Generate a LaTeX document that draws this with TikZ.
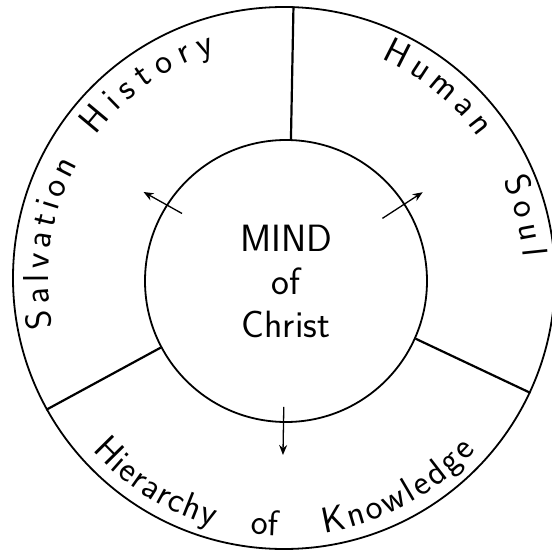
\documentclass[tikz,border=0pt]{standalone}
\usepackage{tikz}
\usetikzlibrary{arrows.meta, calc, decorations.text}

\newcommand{\ringfont}{\sffamily\fontsize{36}{43}\selectfont}

\begin{document}
\begin{tikzpicture}[
      x=1pt, y=1pt,
      ring/.style={circle, draw, line width=1.8pt, inner sep=0pt},
      divider/.style={line width=2.2pt},
      arrow/.style={-{Stealth[length=10pt, width=8pt]}, line width=1.3pt},
      rim text/.style={decorate, decoration={text along path,
          text align=center, text={|\ringfont|#1}}},
      bend text/.style={decorate, decoration={text along path,
          text align=fit to path, text={|\ringfont|#1}}}
    ]
    \useasboundingbox (-284,-277) rectangle (268,278);

    \node[ring, minimum size=542pt] (outer) at (0,0) {};
    \node[ring, minimum size=282pt, align=center,
          font=\sffamily\fontsize{38}{43}\selectfont] (mind) at (2,-3) {MIND\\of\\Christ};

    \draw[divider] (mind.88) -- (outer.88);
    \draw[divider] (mind.208) -- (outer.209);
    \draw[divider] (mind.336) -- (outer.335);

    % arrows out of the centre
    \coordinate (sh-in) at ($(mind.center)+(147:124)$);
    \coordinate (sh-out) at ($(mind.center)+(148:168)$);
    \coordinate (hs-in) at ($(mind.center)+(33:115)$);
    \coordinate (hs-out) at ($(mind.center)+(33:163)$);
    \coordinate (hk-in) at ($(mind.center)+(269:126)$);
    \coordinate (hk-out) at ($(mind.center)+(269:174)$);
    \draw[arrow] (sh-in) -- (sh-out);
    \draw[arrow] (hs-in) -- (hs-out);
    \draw[arrow] (hk-in) -- (hk-out);

    % words round the rim
    \path[bend text=Salvation] (192:236) arc[start angle=192, end angle=151, radius=236];
    \path[bend text=History] (143:236) arc[start angle=143, end angle=107, radius=236];
    \path[bend text=Human] (66:240) arc[start angle=66, end angle=36, radius=240];
    \path[bend text=Soul] (24:240) arc[start angle=24, end angle=5, radius=240];
    \path[bend text=Hierarchy] (222:258) arc[start angle=222, end angle=254, radius=258];
    \path[rim text=of] (259:258) arc[start angle=259, end angle=272, radius=258];
    \path[bend text=Knowledge] (279:258) arc[start angle=279, end angle=318, radius=258];
\end{tikzpicture}
\end{document}
